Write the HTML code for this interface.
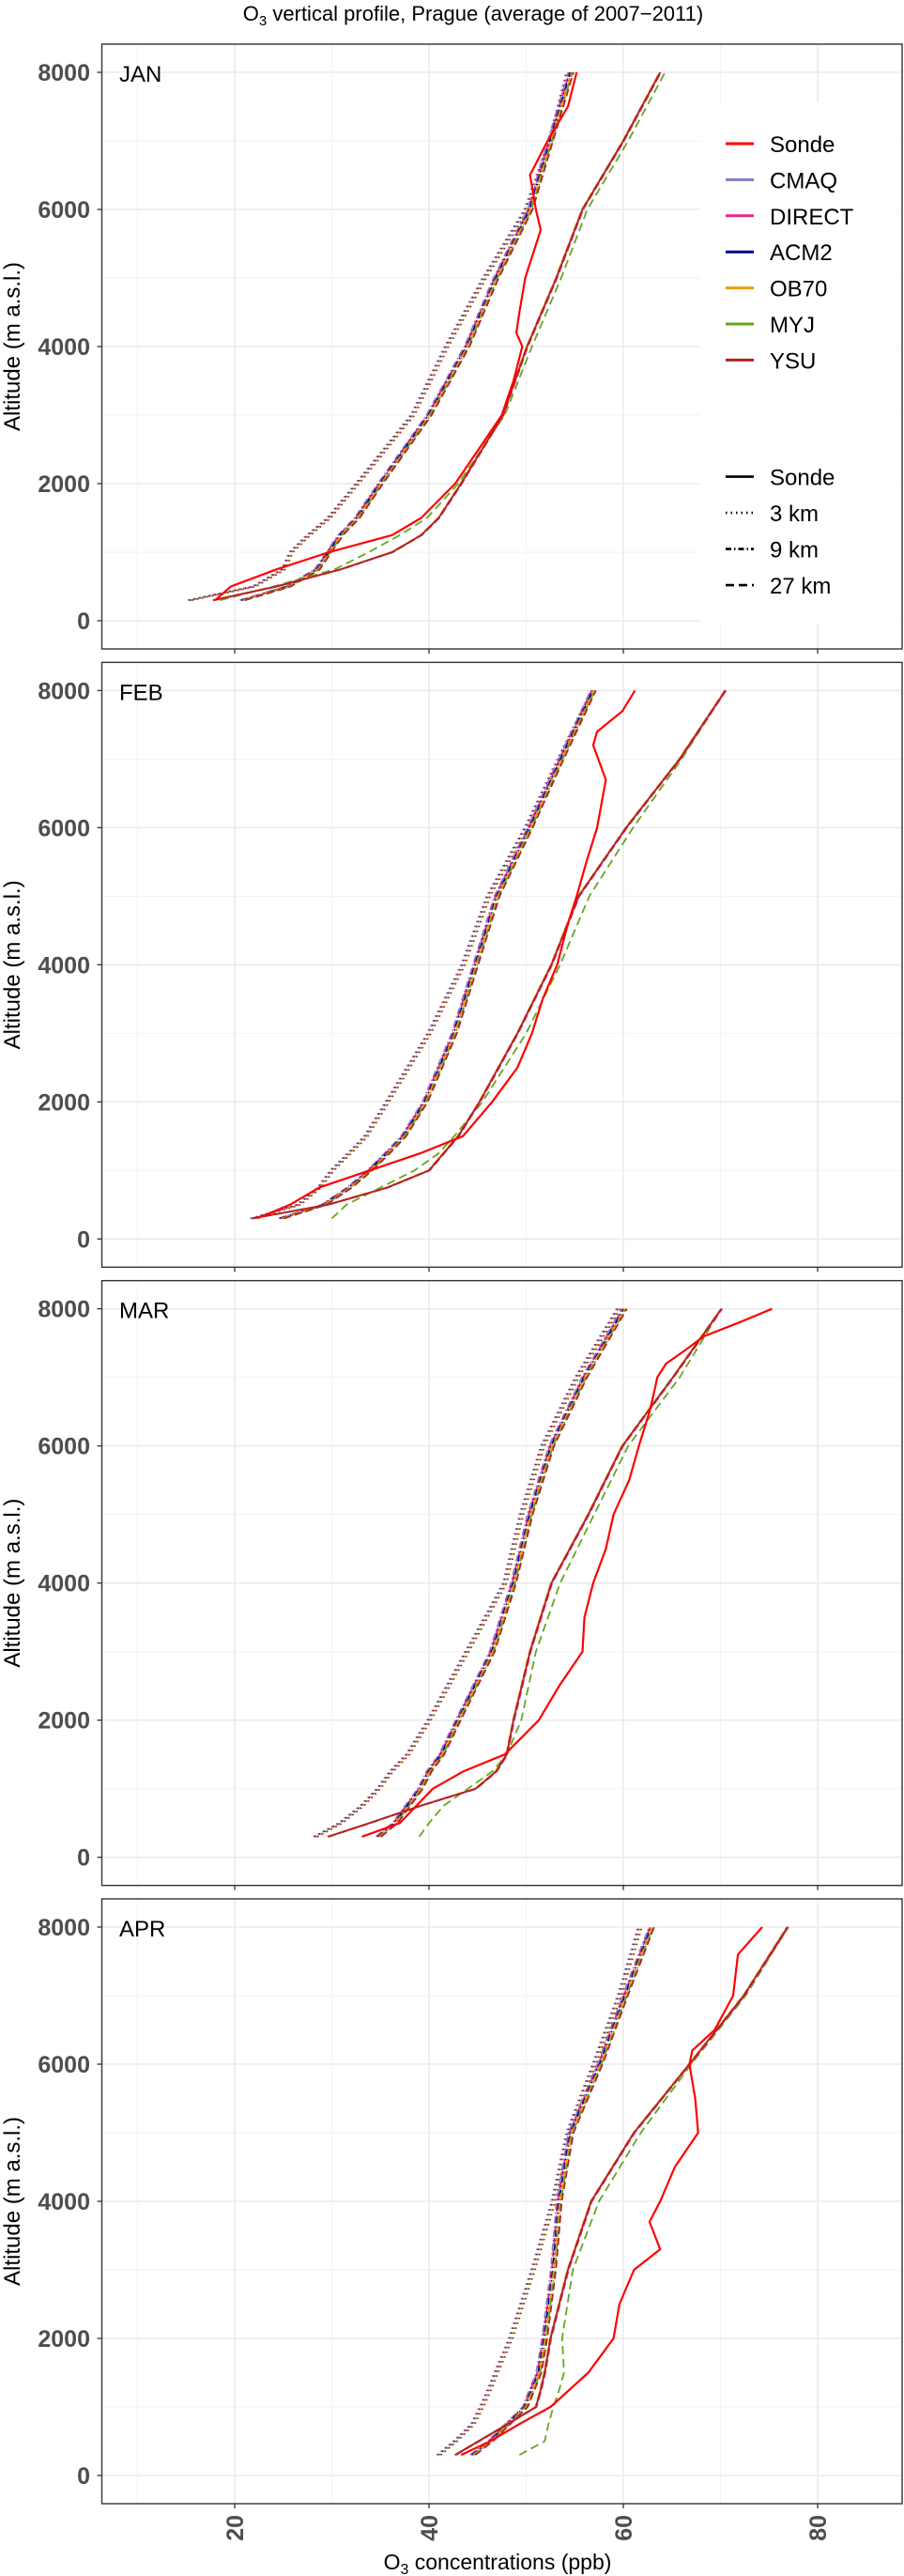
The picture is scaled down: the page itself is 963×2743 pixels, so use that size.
<!DOCTYPE html>
<html><head><meta charset="utf-8">
<style>
html,body{margin:0;padding:0;background:#fff;}
svg{display:block;font-family:"Liberation Sans",sans-serif;}
</style></head>
<body>
<svg id="chart" width="963" height="2743" viewBox="0 0 963 2743" xmlns="http://www.w3.org/2000/svg">
<text x="504" y="22" font-size="22" text-anchor="middle" fill="#000">O<tspan font-size="15" dy="5">3</tspan><tspan dy="-5"> vertical profile, Prague (average of 2007−2011)</tspan></text>
<text x="530" y="2736" font-size="23" text-anchor="middle" fill="#000">O<tspan font-size="16" dy="5">3</tspan><tspan dy="-5"> concentrations (ppb)</tspan></text>
</svg>
<script>
const months = ["JAN","FEB","MAR","APR"];
const xTicks = [20,40,60,80];
const yTicks = [0,2000,4000,6000,8000];
const modelAlt = [300,500,750,1000,1250,1500,2000,3000,4000,5000,6000,7000,8000];

const janSondeAlt = [300,500,750,1000,1250,1500,2000,2500,3000,3500,4000,4200,4500,5000,5700,6000,6500,7000,7500,8000];
const janSondeO3 = [18,19.6,24.3,29.7,36.2,39.2,42.7,45.1,47.5,48.7,49.6,49,49.3,49.9,51.5,51,50.4,52.2,54.3,55.2];
const febSondeAlt = [300,500,750,1000,1250,1500,2000,2500,3000,3500,4000,4600,5000,5500,6000,6700,7200,7400,7700,8000];
const febSondeO3 = [22.3,25.7,28.7,33.9,39.1,43.5,46.5,49.1,50.6,51.7,53.2,54.3,55.2,56.2,57.3,58.2,56.9,57.3,59.9,61.2];
const marSondeAlt = [300,500,750,1000,1250,1500,2000,2500,3000,3500,4000,4500,5000,5500,6000,6500,6800,7000,7200,7400,7600,7800,8000];
const marSondeO3 = [33.1,37,38.7,40.4,43.5,47.8,51.3,53.4,55.8,56,56.9,58.2,59,60.6,61.6,62.7,63.2,63.5,64.4,66.4,68.3,71.9,75.3];
const aprSondeAlt = [300,500,750,1000,1500,2000,2500,3000,3300,3700,4000,4500,5000,5500,6000,6200,6500,7000,7600,8000];
const aprSondeO3 = [43.3,46.3,49.3,52.5,56.4,59,59.6,61.1,63.8,62.7,63.8,65.3,67.7,67.4,66.8,67.1,69.4,71.3,71.8,74.3];

const janDotted = [15.4,22,25,25.8,27.6,29.7,32.6,38.3,41.8,45.7,50,52.5,54.3];
const janMid = [20.8,25.5,28.5,29.7,30.9,32.6,35,40,43.9,46.9,50.4,52.5,54.6];
const janRight = [17.8,24.3,30.9,36.2,39.2,41,43.3,47.6,50.1,53.1,55.8,60,63.8];
const janMyj27 = [18.5,24,30.3,33.8,37,39.8,43,47.8,50.6,53.6,56.3,60.5,64.3];
const febDotted = [21.8,26.6,28.7,30,31.8,33.5,35.7,40,43.5,46.1,50,53.4,56.9];
const febMid = [24.8,29.2,31.8,33.9,35.7,37.4,39.6,42.6,44.8,47,50.4,53.6,56.9];
const febRight = [21.8,29.6,35.7,40,41.5,43,45.2,49.1,52.6,55.4,60.3,65.8,70.5];
const febMyj27 = [30,31.5,35,38.5,41,42.6,45.5,50,53.5,56.5,61,66,70.5];
const marDotted = [28.3,30.9,33.1,34.8,36.1,37.8,40,43.9,47.8,49.5,51.7,55.2,59.5];
const marMid = [34.8,36.5,37.8,39.1,40,41.3,43,46.5,48.7,50.4,52.6,56,60.1];
const marRight = [29.6,33.9,39.1,44.8,46.9,48,48.7,50.4,52.6,56.4,59.9,65.1,70.1];
const marMyj27 = [39,40,41.5,44,46.5,48,49.5,51,53.5,57,60.5,65.8,70.1];
const aprDotted = [41,42.7,44.5,45.4,46.2,46.9,48.4,50.7,52.8,54.3,57,59.6,61.7];
const aprMid = [44.5,46.3,48.1,49.9,50.6,51.3,51.9,52.8,53.4,54.6,57.6,60.2,62.9];
const aprRight = [42.7,45.1,48.1,51,51.5,51.9,52.5,54.3,56.7,61.1,66.8,72.4,76.9];
const aprMyj27 = [49.3,51.9,52.3,52.8,53.4,53.9,53.7,54.8,57.5,61.8,67,72.6,77];

const sondeAlts = [janSondeAlt,febSondeAlt,marSondeAlt,aprSondeAlt];
const sondeVals = [janSondeO3,febSondeO3,marSondeO3,aprSondeO3];
const dottedVals = [janDotted,febDotted,marDotted,aprDotted];
const midVals = [janMid,febMid,marMid,aprMid];
const rightVals = [janRight,febRight,marRight,aprRight];
const myjVals = [janMyj27,febMyj27,marMyj27,aprMyj27];

const C = {Sonde:"#FF0000",CMAQ:"#7F7FC4",DIRECT:"#E7298A",ACM2:"#00008B",OB70:"#E6A000",MYJ:"#66A61E",YSU:"#B22222"};
const NS="http://www.w3.org/2000/svg";
const svg=document.getElementById('chart');
const L=108.5,R=961,PH=644;
function xs(v){return 43+v*10.35;}
function mk(tag,attrs,parent){const e=document.createElementNS(NS,tag);for(const k in attrs)e.setAttribute(k,attrs[k]);(parent||svg).appendChild(e);return e;}

months.forEach((m,k)=>{
  const T=47+658.33*k;
  const ys=a=>T+30+(8000-a)*0.073;
  const g=mk('g',{});
  
  
  mk('rect',{x:L,y:T,width:R-L,height:PH,fill:'#fff'},g);
  // minor grid
  [10,30,50,70].forEach(v=>mk('line',{x1:xs(v),x2:xs(v),y1:T,y2:T+PH,stroke:'#F2F2F2','stroke-width':1},g));
  [1000,3000,5000,7000].forEach(v=>mk('line',{x1:L,x2:R,y1:ys(v),y2:ys(v),stroke:'#F2F2F2','stroke-width':1},g));
  xTicks.forEach(v=>mk('line',{x1:xs(v),x2:xs(v),y1:T,y2:T+PH,stroke:'#EBEBEB','stroke-width':1.6},g));
  yTicks.forEach(v=>mk('line',{x1:L,x2:R,y1:ys(v),y2:ys(v),stroke:'#EBEBEB','stroke-width':1.6},g));
  // y ticks + labels
  yTicks.forEach(v=>{
    mk('line',{x1:L-5,x2:L,y1:ys(v),y2:ys(v),stroke:'#333','stroke-width':1.3},g);
    const t=mk('text',{x:96,y:ys(v)+9,'font-size':25,'font-weight':'bold','text-anchor':'end',fill:'#4D4D4D'},g);
    
    
    t.textContent=v;
  });
  xTicks.forEach(v=>mk('line',{x1:xs(v),x2:xs(v),y1:T+PH,y2:T+PH+5,stroke:'#333','stroke-width':1.3},g));
  const yt=mk('text',{x:0,y:0,'font-size':24,'text-anchor':'middle',fill:'#000',transform:`translate(21,${T+322}) rotate(-90)`},g);
  
  
  yt.textContent='Altitude (m a.s.l.)';
  const pl=mk('text',{x:127,y:T+40,'font-size':24,fill:'#000'},g);
  
  
  pl.textContent=m;

  function line(vals,alts,color,dash,w,shift,name){
    const d=vals.map((v,i)=>(i?'L':'M')+(xs(v)+shift).toFixed(1)+','+ys(alts[i]).toFixed(1)).join('');
    const p=mk('path',{d:d,fill:'none',stroke:color,'stroke-width':w,'stroke-dasharray':dash,'stroke-linejoin':'round'},g);
    
    
  }
  const models=["CMAQ","DIRECT","ACM2","OB70","MYJ","YSU"];
  // 3 km dotted
  models.forEach((md,i)=>line(dottedVals[k],modelAlt,C[md],'1.5 4',1.8,(i-2.5)*0.9,'line-3km-'+md.toLowerCase()));
  // 9 km dotdash / 27 km dashed middle group
  models.forEach((md,i)=>line(midVals[k],modelAlt,C[md],i%2?'8 4':'7 3 1.5 3',1.8,(i-2.5)*1.1,'line-mid-'+md.toLowerCase()));
  // right group
  line(myjVals[k],modelAlt,C.MYJ,'9 5',1.8,0,'line-27km-myj');
  line(rightVals[k],modelAlt,C.DIRECT,'8 4',1.8,0.8,'line-27km-direct');
  line(rightVals[k],modelAlt,C.OB70,'8 4',1.8,-0.6,'line-27km-ob70');
  line(rightVals[k],modelAlt,C.YSU,'',2,0,'line-solid-ysu');
  // sonde
  line(sondeVals[k],sondeAlts[k],C.Sonde,'',2.2,0,'line-sonde');
  mk('rect',{x:L,y:T,width:R-L,height:PH,fill:'none',stroke:'#333','stroke-width':1.4},g);

  if(k===0){
    const lg=mk('g',{});
    
    
    mk('rect',{x:746,y:109,width:213,height:556,fill:'#fff'},lg);
    ["Sonde","CMAQ","DIRECT","ACM2","OB70","MYJ","YSU"].forEach((n,i)=>{
      const cy=153+38.4*i;
      mk('line',{x1:773,x2:803,y1:cy,y2:cy,stroke:C[n],'stroke-width':3},lg);
      const t=mk('text',{x:820,y:cy+9,'font-size':24,fill:'#000'},lg);
      
      
      t.textContent=n;
    });
    [["Sonde",""],["3 km","1.5 4"],["9 km","6 3 1.5 3"],["27 km","9 5"]].forEach((e,i)=>{
      const cy=507.6+38.5*i;
      mk('line',{x1:773,x2:803,y1:cy,y2:cy,stroke:'#000','stroke-width':2.6,'stroke-dasharray':e[1]},lg);
      const t=mk('text',{x:820,y:cy+9,'font-size':24,fill:'#000'},lg);
      
      
      t.textContent=e[0];
    });
  }
  if(k===3){
    xTicks.forEach(v=>{
      const t=mk('text',{x:0,y:0,'font-size':25,'font-weight':'bold','text-anchor':'end',fill:'#4D4D4D',transform:`translate(${xs(v)+9},${T+PH+12}) rotate(-90)`});
      
      
      t.textContent=v;
    });
  }
});
</script>
</body></html>
